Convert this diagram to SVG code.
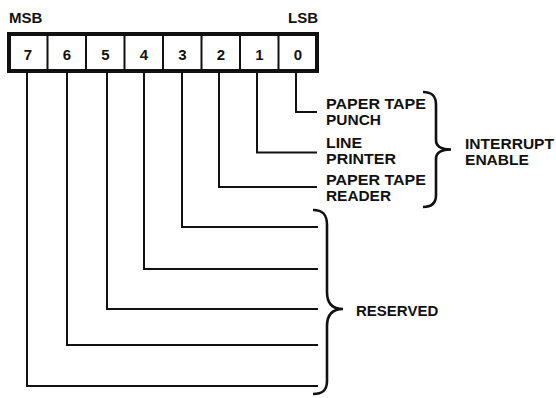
<svg xmlns="http://www.w3.org/2000/svg" width="556" height="398" viewBox="0 0 556 398">
<style>
text{font-family:"Liberation Sans",Arial,sans-serif;font-weight:bold;font-size:15px;fill:#111}
.s{font-size:14px}
.d{text-anchor:middle}
.ln{fill:none;stroke:#111;stroke-width:2}
.br{fill:none;stroke:#111;stroke-width:2.6;stroke-linejoin:miter}
</style>
<rect width="556" height="398" fill="#fff"/>
<g id="register">
<text x="9" y="23">MSB</text>
<text x="318" y="23" text-anchor="end">LSB</text>
<rect x="9" y="34" width="308" height="37" fill="#fff" stroke="#111" stroke-width="4"/>
<path class="ln" d="M47.5,34V71M86,34V71M124.5,34V71M163,34V71M201.5,34V71M240,34V71M278.5,34V71"/>
<text class="d" x="28" y="60">7</text>
<text class="d" x="67" y="60">6</text>
<text class="d" x="105.5" y="60">5</text>
<text class="d" x="144" y="60">4</text>
<text class="d" x="182.5" y="60">3</text>
<text class="d" x="221" y="60">2</text>
<text class="d" x="259.5" y="60">1</text>
<text class="d" x="298" y="60">0</text>
</g>
<g id="connectors">
<path class="ln" d="M296,73V112H317"/>
<path class="ln" d="M257,73V152.5H317"/>
<path class="ln" d="M219,73V187H317"/>
<path class="ln" d="M182,73V227H318"/>
<path class="ln" d="M144,73V269H318"/>
<path class="ln" d="M107,73V309H318"/>
<path class="ln" d="M67,73V345H318"/>
<path class="ln" d="M27,73V386H318"/>
</g>
<g id="interrupt-labels">
<text class="s" x="326" y="109" textLength="100" lengthAdjust="spacingAndGlyphs">PAPER TAPE</text>
<text class="s" x="326" y="125" textLength="55" lengthAdjust="spacingAndGlyphs">PUNCH</text>
<text class="s" x="326" y="148" textLength="36" lengthAdjust="spacingAndGlyphs">LINE</text>
<text class="s" x="326" y="164" textLength="70" lengthAdjust="spacingAndGlyphs">PRINTER</text>
<text class="s" x="326" y="185" textLength="100" lengthAdjust="spacingAndGlyphs">PAPER TAPE</text>
<text class="s" x="326" y="201" textLength="65" lengthAdjust="spacingAndGlyphs">READER</text>
</g>
<g id="interrupt-enable">
<path class="br" d="M423,92C432,92 436,96 436,105L436,140C436,146 440,149.5 451,149.5C440,149.5 436,153 436,159L436,195C436,203 432,207 423,207"/>
<text class="s" x="465" y="149" textLength="89" lengthAdjust="spacingAndGlyphs">INTERRUPT</text>
<text class="s" x="465" y="165" textLength="64" lengthAdjust="spacingAndGlyphs">ENABLE</text>
</g>
<g id="reserved">
<path class="br" d="M313,210C323,210 327,215 327,225L327,292C327,302 331,309 343,309C331,309 327,316 327,326L327,381C327,390 323,394 313,394"/>
<text x="356" y="316">RESERVED</text>
</g>
</svg>
